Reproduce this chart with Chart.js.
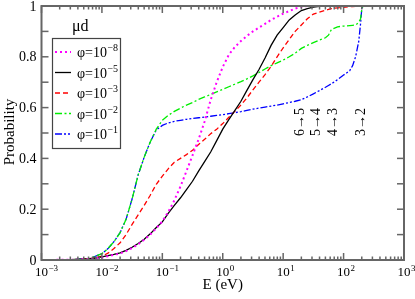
<!DOCTYPE html>
<html>
<head>
<meta charset="utf-8">
<script src="https://cdn.jsdelivr.net/npm/chart.js@4"></script>
<style>
  html, body { margin: 0; padding: 0; background: #fff; }
  canvas { display: block; }
</style>
</head>
<body>
<canvas id="probChart" width="415" height="299"></canvas>
<script>
// energies (eV), shared by every curve
const energy = [0.001, 0.00316, 0.00631, 0.01, 0.0126, 0.0158, 0.02, 0.0251, 0.0316, 0.0398,
    0.0501, 0.0631, 0.0794, 0.1, 0.126, 0.158, 0.2, 0.251, 0.316, 0.398,
    0.501, 0.631, 0.794, 1, 1.26, 1.58, 2, 2.51, 3.16, 3.98,
    5.01, 6.31, 7.94, 10, 12.6, 15.8, 20, 25.1, 31.6, 39.8,
    50.1, 56.2, 63.1, 79.4, 100, 126, 141, 158, 178, 191, 200, 209];

const probPhi8 = [0, 0.001, 0.004, 0.01, 0.015, 0.02, 0.026, 0.035, 0.047, 0.062,
    0.08, 0.1, 0.125, 0.152, 0.19, 0.235, 0.29, 0.35, 0.412, 0.475,
    0.545, 0.63, 0.7, 0.76, 0.808, 0.838, 0.862, 0.882, 0.9, 0.915,
    0.93, 0.945, 0.958, 0.97, 0.98, 0.99, 0.997, 1, 1, 1,
    1, 1, 1, 1, 1, 1, 1, 1, 1, 1, 1, 1];

const probPhi5 = [0, 0.001, 0.004, 0.012, 0.017, 0.022, 0.028, 0.038, 0.05, 0.065,
    0.082, 0.103, 0.128, 0.15, 0.185, 0.215, 0.245, 0.277, 0.31, 0.35,
    0.387, 0.425, 0.47, 0.515, 0.553, 0.588, 0.625, 0.668, 0.71, 0.75,
    0.795, 0.845, 0.885, 0.915, 0.945, 0.965, 0.982, 0.99, 0.996, 0.999,
    1, 1, 1, 1, 1, 1, 1, 1, 1, 1, 1, 1];

const probPhi3 = [0, 0.001, 0.005, 0.015, 0.027, 0.045, 0.068, 0.1, 0.14, 0.178,
    0.215, 0.255, 0.298, 0.33, 0.36, 0.385, 0.4, 0.415, 0.432, 0.455,
    0.475, 0.497, 0.515, 0.537, 0.562, 0.585, 0.61, 0.638, 0.67, 0.7,
    0.73, 0.762, 0.8, 0.835, 0.868, 0.9, 0.925, 0.95, 0.968, 0.976,
    0.983, 0.987, 0.99, 0.993, 0.995, 0.997, 0.998, 0.999, 1, 1, 1, 1];

const probPhi2 = [0, 0.001, 0.006, 0.025, 0.045, 0.072, 0.108, 0.16, 0.24, 0.335,
    0.405, 0.465, 0.515, 0.55, 0.57, 0.585, 0.598, 0.61, 0.62, 0.632,
    0.642, 0.652, 0.662, 0.672, 0.682, 0.692, 0.702, 0.713, 0.725, 0.738,
    0.752, 0.765, 0.776, 0.787, 0.8, 0.814, 0.833, 0.845, 0.856, 0.866,
    0.875, 0.885, 0.908, 0.918, 0.921, 0.923, 0.924, 0.925, 0.935, 0.95, 0.985, 1];

const probPhi1 = [0, 0.001, 0.006, 0.025, 0.045, 0.072, 0.108, 0.16, 0.24, 0.335,
    0.405, 0.465, 0.512, 0.53, 0.54, 0.546, 0.55, 0.554, 0.557, 0.56,
    0.563, 0.566, 0.569, 0.572, 0.576, 0.58, 0.584, 0.589, 0.594, 0.598,
    0.602, 0.606, 0.61, 0.615, 0.62, 0.625, 0.631, 0.642, 0.654, 0.667,
    0.68, 0.687, 0.694, 0.71, 0.728, 0.745, 0.765, 0.8, 0.86, 0.93, 0.99, 1];

const seriesExp = ["\u22128", "\u22125", "\u22123", "\u22122", "\u22121"];

const xMajorTicks = [0.001, 0.01, 0.1, 1, 10, 100, 1000];
const xTickExp = ["\u22123", "\u22122", "\u22121", "0", "1", "2", "3"];
const yTicks = [0, 0.1, 0.2, 0.3, 0.4, 0.5, 0.6, 0.7, 0.8, 0.9, 1];
const yLabelValues = [0, 0.2, 0.4, 0.6, 0.8, 1];
const yLabels = ["0", "0.2", "0.4", "0.6", "0.8", "1"];

const transitionE = [19.4, 35.6, 68.2, 195];
const transitionLabels = ["6\u21925", "5\u21924", "4\u21923", "3\u21922"];

const serif = '"Liberation Serif", "Times New Roman", serif';

function pts(ys) {
    return energy.map((e, i) => ({ x: e, y: ys[i] }));
}

function drawPow(ctx, base, exp, x, y, size, centered) {
    ctx.textAlign = "left";
    ctx.textBaseline = "alphabetic";
    ctx.font = size + "px " + serif;
    const wb = ctx.measureText(base).width;
    const x0 = centered ? x - wb / 2 : x;
    ctx.fillText(base, x0, y);
    ctx.font = Math.round(size * 0.72) + "px " + serif;
    ctx.fillText(exp, x0 + wb + 0.5, y - size * 0.42);
}

function seg(ctx, x1, y1, x2, y2) {
    ctx.beginPath();
    ctx.moveTo(x1, y1);
    ctx.lineTo(x2, y2);
    ctx.stroke();
}

const decor = {
    id: "decor",
    afterDatasetsDraw(chart) {
        const { ctx, chartArea: a, scales: { x, y } } = chart;
        ctx.save();
        ctx.setLineDash([]);
        ctx.strokeStyle = "#666";
        ctx.lineWidth = 1.5;

        // x ticks, bottom and top, pointing inward
        xMajorTicks.forEach((v, i) => {
            const px = x.getPixelForValue(v);
            seg(ctx, px, a.bottom, px, a.bottom - 7);
            seg(ctx, px, a.top, px, a.top + 7);
            if (i < xMajorTicks.length - 1) {
                for (let m = 2; m <= 9; m++) {
                    const pm = x.getPixelForValue(v * m);
                    seg(ctx, pm, a.bottom, pm, a.bottom - 3.5);
                    seg(ctx, pm, a.top, pm, a.top + 3.5);
                }
            }
        });
        yTicks.forEach(v => {
            const py = y.getPixelForValue(v);
            seg(ctx, a.left, py, a.left + 7, py);
            seg(ctx, a.right, py, a.right - 7, py);
        });

        ctx.lineWidth = 2;
        ctx.strokeRect(a.left, a.top, a.right - a.left, a.bottom - a.top);

        ctx.fillStyle = "#000";
        // y tick labels
        ctx.font = "14px " + serif;
        ctx.textAlign = "right";
        ctx.textBaseline = "middle";
        yLabelValues.forEach((v, i) => {
            ctx.fillText(yLabels[i], a.left - 5, y.getPixelForValue(v) + 1);
        });
        // x tick labels 10^n
        xMajorTicks.forEach((v, i) => {
            drawPow(ctx, "10", xTickExp[i], x.getPixelForValue(v), a.bottom + 16, 13, true);
        });

        // axis titles
        ctx.font = "15px " + serif;
        ctx.textAlign = "center";
        ctx.textBaseline = "alphabetic";
        ctx.fillText("E (eV)", (a.left + a.right) / 2, 289);
        ctx.save();
        ctx.translate(10, 132);
        ctx.rotate(-Math.PI / 2);
        ctx.textBaseline = "middle";
        ctx.fillText("Probability", 0, 0);
        ctx.restore();

        // transition labels
        ctx.font = "14px " + serif;
        transitionE.forEach((e, i) => {
            ctx.save();
            ctx.translate(x.getPixelForValue(e), 122);
            ctx.rotate(-Math.PI / 2);
            ctx.textAlign = "center";
            ctx.textBaseline = "middle";
            ctx.fillText(transitionLabels[i], 0, 0);
            ctx.restore();
        });

        // legend
        ctx.font = "16px " + serif;
        ctx.textAlign = "left";
        ctx.textBaseline = "alphabetic";
        ctx.fillText("\u03bcd", 72, 31);

        ctx.strokeStyle = "#444";
        ctx.lineWidth = 1.2;
        ctx.strokeRect(52.5, 38.5, 68, 110);
        chart.data.datasets.forEach((ds, i) => {
            const ly = 52 + i * 20.5;
            ctx.strokeStyle = ds.borderColor;
            ctx.lineWidth = ds.borderWidth;
            ctx.setLineDash(ds.borderDash || []);
            seg(ctx, 55, ly, 71, ly);
            ctx.setLineDash([]);
            ctx.fillStyle = "#000";
            drawPow(ctx, "\u03c6=10", seriesExp[i], 77, ly + 5, 14, false);
        });
        ctx.restore();
    }
};

new Chart(document.getElementById("probChart"), {
    type: "line",
    data: {
        datasets: [
            { data: pts(probPhi8), borderColor: "#ff00ff", borderWidth: 2, borderDash: [2, 3] },
            { data: pts(probPhi5), borderColor: "#000000", borderWidth: 1.3, borderDash: [] },
            { data: pts(probPhi3), borderColor: "#ff0000", borderWidth: 1.3, borderDash: [5, 3] },
            { data: pts(probPhi2), borderColor: "#00ee00", borderWidth: 1.3, borderDash: [7, 2.5, 2, 2.5] },
            { data: pts(probPhi1), borderColor: "#0000ff", borderWidth: 1.3, borderDash: [7, 2, 2, 2, 2, 2] }
        ]
    },
    options: {
        responsive: false,
        animation: false,
        devicePixelRatio: 1,
        parsing: false,
        layout: { padding: { left: 41.5, right: 11, top: 6, bottom: 39 } },
        elements: { point: { radius: 0 }, line: { tension: 0, fill: false } },
        scales: {
            x: { type: "logarithmic", min: 0.001, max: 1000, display: false },
            y: { type: "linear", min: 0, max: 1, display: false }
        },
        plugins: { legend: { display: false }, tooltip: { enabled: false } }
    },
    plugins: [decor]
});
</script>
</body>
</html>
